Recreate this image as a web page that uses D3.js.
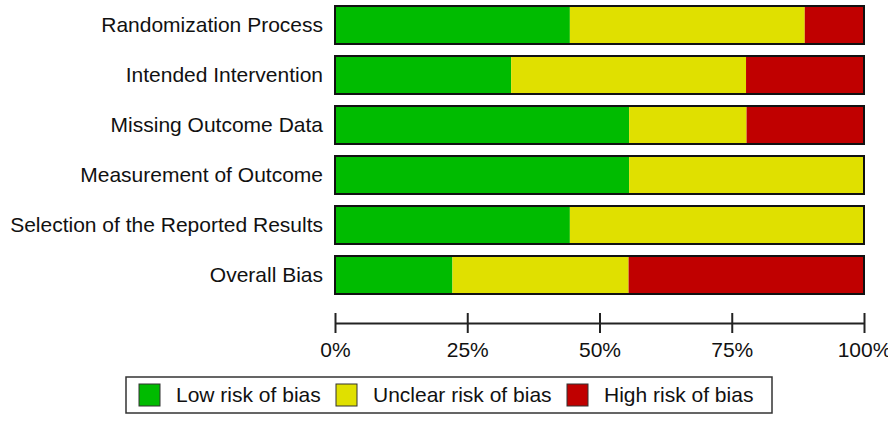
<!DOCTYPE html>
<html><head><meta charset="utf-8">
<script src="https://cdn.jsdelivr.net/npm/d3@7"></script>
<style>html,body{margin:0;padding:0;background:#fff;}svg{display:block;font-family:"Liberation Sans",Arial,sans-serif;}</style>
</head><body>
<svg id="c" width="888" height="421"></svg>
<script>
const domains = ["Randomization Process","Intended Intervention","Missing Outcome Data","Measurement of Outcome","Selection of the Reported Results","Overall Bias"];
const lowRisk = [44.4, 33.3, 55.6, 55.6, 44.4, 22.2];
const unclearRisk = [44.4, 44.4, 22.2, 44.4, 55.6, 33.3];
const highRisk = [11.1, 22.2, 22.2, 0, 0, 44.4];
const tickValues = [0, 25, 50, 75, 100];
const seriesNames = ["Low risk of bias","Unclear risk of bias","High risk of bias"];
const colors = ["#00bb00","#e0e000","#c00000"];

const svg = d3.select("#c");
const x = d3.scaleLinear().domain([0,100]).range([335,864]);
const y = d3.scaleBand().domain(domains).range([0,300]).paddingInner(0.24).paddingOuter(0.12);

const rows = domains.map((d,i)=>({domain:d, low:lowRisk[i], unclear:unclearRisk[i], high:highRisk[i]}));
const stack = d3.stack().keys(["low","unclear","high"]);
const series = stack(rows);

const g = svg.append("g");
series.forEach((s,si)=>{
  g.selectAll(null).data(s).enter().append("rect")
    .attr("x", d=>x(d[0]))
    .attr("y", d=>y(d.data.domain))
    .attr("width", d=>Math.max(0,x(d[1])-x(d[0])))
    .attr("height", y.bandwidth())
    .attr("fill", colors[si]);
});
g.selectAll(null).data(domains).enter().append("rect")
  .attr("x", x(0)).attr("y", d=>y(d))
  .attr("width", x(100)-x(0)).attr("height", y.bandwidth())
  .attr("fill","none").attr("stroke","#111").attr("stroke-width",2);

svg.selectAll(null).data(domains).enter().append("text")
  .attr("x", 323).attr("y", d=>y(d)+y.bandwidth()/2)
  .attr("dy","0.35em").attr("text-anchor","end")
  .attr("font-size",21).attr("fill","#111").text(d=>d);

const axis = d3.axisBottom(x).tickValues(tickValues).tickFormat(d=>d+"%").tickSize(0).tickPadding(0);
const ax = svg.append("g").attr("transform","translate(0,323)").call(axis);
ax.select(".domain").attr("stroke","#222").attr("stroke-width",2);
ax.selectAll(".tick line").attr("y1",-10).attr("y2",10).attr("stroke","#222").attr("stroke-width",2);
ax.selectAll(".tick text").attr("y",34).attr("dy","0").attr("font-size",21).attr("fill","#111").attr("font-family","Liberation Sans, Arial, sans-serif");

const lg = svg.append("g");
lg.append("rect").attr("x",126).attr("y",377).attr("width",646).attr("height",36)
  .attr("fill","#fff").attr("stroke","#333").attr("stroke-width",1.5);
const swX = [139, 336, 567];
seriesNames.forEach((n,i)=>{
  lg.append("rect").attr("x",swX[i]).attr("y",384).attr("width",21).attr("height",22)
    .attr("fill",colors[i]).attr("stroke","#333").attr("stroke-width",1);
  lg.append("text").attr("x",swX[i]+37).attr("y",395).attr("dy","0.35em")
    .attr("font-size",21).attr("fill","#111").text(n);
});
</script>
</body></html>
